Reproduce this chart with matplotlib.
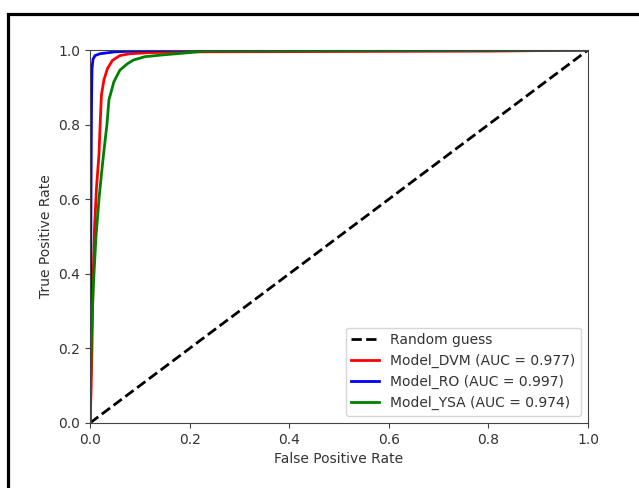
import matplotlib
matplotlib.use("Agg")
import matplotlib.pyplot as plt
from matplotlib.patches import Rectangle

# ROC data
dvm_fpr = [0.0, 0.002, 0.004, 0.006, 0.009, 0.013, 0.018, 0.021, 0.023, 0.028, 0.035, 0.045, 0.06, 0.08, 0.12, 0.2, 0.5, 0.8, 0.95, 1.0]
dvm_tpr = [0.0, 0.08, 0.2, 0.38, 0.52, 0.63, 0.72, 0.82, 0.88, 0.92, 0.95, 0.972, 0.985, 0.99, 0.993, 0.995, 0.996, 0.997, 0.999, 1.0]

ro_fpr = [0.0, 0.001, 0.002, 0.003, 0.004, 0.006, 0.01, 0.02, 0.05, 0.1, 0.2, 1.0]
ro_tpr = [0.0, 0.3, 0.6, 0.85, 0.95, 0.975, 0.985, 0.99, 0.995, 0.998, 1.0, 1.0]

ysa_fpr = [0.0, 0.001, 0.003, 0.007, 0.012, 0.018, 0.024, 0.028, 0.034, 0.038, 0.048, 0.06, 0.075, 0.087, 0.11, 0.147, 0.2, 0.23, 0.5, 1.0]
ysa_tpr = [0.0, 0.1, 0.24, 0.375, 0.5, 0.6, 0.68, 0.73, 0.8, 0.866, 0.915, 0.946, 0.963, 0.973, 0.982, 0.987, 0.993, 0.997, 0.998, 1.0]

labels = ["Random guess", "Model_DVM (AUC = 0.977)", "Model_RO (AUC = 0.997)", "Model_YSA (AUC = 0.974)"]

txt = "#333333"
plt.rcParams.update({"text.color": txt, "axes.labelcolor": txt,
                     "xtick.color": "#444444", "ytick.color": "#444444",
                     "xtick.labelcolor": txt, "ytick.labelcolor": txt,
                     "axes.edgecolor": "#444444"})

fig = plt.figure(figsize=(6.39, 4.88), dpi=100)
W, H = 639, 488
ax = fig.add_axes([90 / W, 1 - 423 / H, 498 / W, 373 / H])

ax.plot([0, 1], [0, 1], "k--", lw=2, label=labels[0])
ax.plot(dvm_fpr, dvm_tpr, color="red", lw=2, label=labels[1])
ax.plot(ro_fpr, ro_tpr, color="blue", lw=2, label=labels[2])
ax.plot(ysa_fpr, ysa_tpr, color="green", lw=2, label=labels[3])

ax.set_xlim(0, 1)
ax.set_ylim(0, 1)
ax.set_xlabel("False Positive Rate")
ax.set_ylabel("True Positive Rate")
ax.legend(loc="lower right")

# outer black frame (screenshot border), extending beyond the canvas
fig.add_artist(Rectangle((8 / W, -1.0), 2.0, 2.0 - 13.5 / H, fill=False,
                         edgecolor="black", lw=2.3, transform=fig.transFigure,
                         joinstyle="miter"))

fig.savefig("out.png", dpi=100)
